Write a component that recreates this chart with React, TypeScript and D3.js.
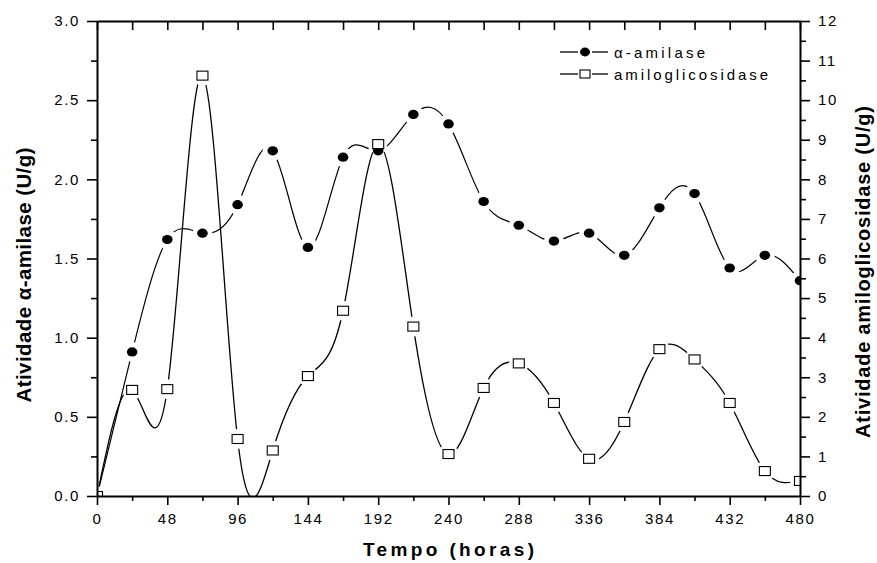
import React, { useEffect, useRef } from 'react'
import * as d3 from 'd3'

// sampling times (h)
const hours = [0, 24, 48, 72, 96, 120, 144, 168, 192, 216, 240, 264, 288, 312, 336, 360, 384, 408, 432, 456, 480]
// alpha-amilase, left axis (U/g)
const amilase = [0, 0.91, 1.62, 1.66, 1.84, 2.18, 1.57, 2.14, 2.18, 2.41, 2.35, 1.86, 1.71, 1.61, 1.66, 1.52, 1.82, 1.91, 1.44, 1.52, 1.36]
// amiloglicosidase, right axis (U/g)
const amiloglicosidase = [0, 2.68, 2.7, 10.62, 1.44, 1.15, 3.03, 4.68, 8.89, 4.28, 1.06, 2.73, 3.35, 2.35, 0.94, 1.87, 3.71, 3.45, 2.35, 0.63, 0.38]

const xTicks = [0, 48, 96, 144, 192, 240, 288, 336, 384, 432, 480]
const xMinorTicks = [24, 72, 120, 168, 216, 264, 312, 360, 408, 456]
const leftTicks = [0, 0.5, 1, 1.5, 2, 2.5, 3]
const leftMinorTicks = [0.25, 0.75, 1.25, 1.75, 2.25, 2.75]
const rightTicks = [0, 1, 2, 3, 4, 5, 6, 7, 8, 9, 10, 11, 12]
const rightMinorTicks = [0.5, 1.5, 2.5, 3.5, 4.5, 5.5, 6.5, 7.5, 8.5, 9.5, 10.5, 11.5]

const W = 877
const H = 563
const margin = { top: 21, right: 77, bottom: 67, left: 97 }
const FONT = '"Liberation Sans", Arial, Helvetica, sans-serif'

export default function App() {
  const svgRef = useRef<SVGSVGElement>(null)

  useEffect(() => {
    const svg = d3.select(svgRef.current)
    svg.selectAll('*').remove()

    const left = margin.left
    const right = W - margin.right
    const top = margin.top
    const bottom = H - margin.bottom

    const x = d3.scaleLinear().domain([0, 480]).range([left, right])
    const yL = d3.scaleLinear().domain([0, 3]).range([bottom, top])
    const yR = d3.scaleLinear().domain([0, 12]).range([bottom, top])

    const defs = svg.append('defs')
    defs.append('clipPath').attr('id', 'plot-clip')
      .append('rect')
      .attr('x', left).attr('y', top)
      .attr('width', right - left).attr('height', bottom - top)

    // gaps in the line around each symbol, like the original
    const makeMask = (id: string, ys: number[], scale: d3.ScaleLinear<number, number>) => {
      const m = defs.append('mask').attr('id', id)
        .attr('maskUnits', 'userSpaceOnUse')
        .attr('x', 0).attr('y', 0).attr('width', W).attr('height', H)
      m.append('rect').attr('width', W).attr('height', H).attr('fill', 'white')
      m.selectAll('circle').data(ys).enter().append('circle')
        .attr('cx', (d, i) => x(hours[i]))
        .attr('cy', d => scale(d))
        .attr('r', 10)
        .attr('fill', 'black')
    }
    makeMask('gap-a', amilase, yL)
    makeMask('gap-b', amiloglicosidase, yR)

    const plot = svg.append('g').attr('clip-path', 'url(#plot-clip)')

    const lineA = d3.line<number>()
      .x((d, i) => x(hours[i]))
      .y(d => yL(d))
      .curve(d3.curveNatural)
    const lineB = d3.line<number>()
      .x((d, i) => x(hours[i]))
      .y(d => yR(d))
      .curve(d3.curveNatural)

    plot.append('g').attr('mask', 'url(#gap-a)')
      .append('path').datum(amilase)
      .attr('d', lineA)
      .attr('fill', 'none').attr('stroke', '#000').attr('stroke-width', 1.2)
    plot.append('g').attr('mask', 'url(#gap-b)')
      .append('path').datum(amiloglicosidase)
      .attr('d', lineB)
      .attr('fill', 'none').attr('stroke', '#000').attr('stroke-width', 1.3)

    plot.selectAll('.dot').data(amilase).enter().append('ellipse')
      .attr('class', 'dot')
      .attr('cx', (d, i) => x(hours[i]))
      .attr('cy', d => yL(d))
      .attr('rx', 5.3).attr('ry', 4.6)
      .attr('fill', '#000')

    plot.selectAll('.sq').data(amiloglicosidase).enter().append('rect')
      .attr('class', 'sq')
      .attr('x', (d, i) => x(hours[i]) - 5.5)
      .attr('y', d => yR(d) - 4.5)
      .attr('width', 11).attr('height', 9)
      .attr('fill', '#fff').attr('stroke', '#000').attr('stroke-width', 1.1)

    // axes
    const styleAxis = (g: d3.Selection<SVGGElement, unknown, null, undefined>) => {
      g.select('.domain').attr('stroke-width', 2)
      g.selectAll('.tick line').attr('stroke-width', 1.6)
      g.selectAll('.tick text')
        .attr('font-family', FONT)
        .attr('font-size', 15)
        .attr('letter-spacing', 1.6)
        .attr('fill', '#000')
    }
    const minor = (g: d3.Selection<SVGGElement, unknown, null, undefined>) => {
      g.select('.domain').remove()
      g.selectAll('.tick line').attr('stroke-width', 1.6)
    }

    svg.append('g').attr('transform', `translate(0,${bottom})`)
      .call(d3.axisBottom(x).tickValues(xMinorTicks).tickSize(5).tickFormat(() => ''))
      .call(minor)
    svg.append('g').attr('transform', `translate(0,${bottom})`)
      .call(d3.axisBottom(x).tickValues(xTicks).tickSize(9).tickSizeOuter(0).tickPadding(8).tickFormat(d3.format('d')))
      .call(styleAxis)

    svg.append('g').attr('transform', `translate(0,${top})`)
      .call(d3.axisTop(x).tickValues(xTicks.concat(xMinorTicks)).tickSize(-9).tickSizeOuter(0).tickFormat(() => ''))
      .call(styleAxis)

    svg.append('g').attr('transform', `translate(${left},0)`)
      .call(d3.axisLeft(yL).tickValues(leftMinorTicks).tickSize(6).tickFormat(() => ''))
      .call(minor)
    svg.append('g').attr('transform', `translate(${left},0)`)
      .call(d3.axisLeft(yL).tickValues(leftTicks).tickSize(10).tickSizeOuter(0).tickPadding(7).tickFormat(d3.format('.1f')))
      .call(styleAxis)

    svg.append('g').attr('transform', `translate(${right},0)`)
      .call(d3.axisRight(yR).tickValues(rightMinorTicks).tickSize(6).tickFormat(() => ''))
      .call(minor)
    svg.append('g').attr('transform', `translate(${right},0)`)
      .call(d3.axisRight(yR).tickValues(rightTicks).tickSize(10).tickSizeOuter(0).tickPadding(8).tickFormat(d3.format('d')))
      .call(styleAxis)

    // titles
    svg.append('text')
      .attr('x', (left + right) / 2).attr('y', 556)
      .attr('text-anchor', 'middle')
      .attr('font-family', FONT).attr('font-weight', 'bold').attr('font-size', 19)
      .attr('textLength', 171).attr('lengthAdjust', 'spacing')
      .text('Tempo (horas)')

    svg.append('text')
      .attr('transform', 'translate(31,275) rotate(-90)')
      .attr('text-anchor', 'middle')
      .attr('font-family', FONT).attr('font-weight', 'bold').attr('font-size', 20.5)
      .attr('textLength', 255).attr('lengthAdjust', 'spacing')
      .text('Atividade α-amilase (U/g)')

    svg.append('text')
      .attr('transform', 'translate(870,272) rotate(-90)')
      .attr('text-anchor', 'middle')
      .attr('font-family', FONT).attr('font-weight', 'bold').attr('font-size', 20)
      .attr('textLength', 332).attr('lengthAdjust', 'spacing')
      .text('Atividade amiloglicosidase (U/g)')

    // legend
    const legend = svg.append('g')
    const rows = [
      { label: 'α-amilase', y: 52, width: 91, symbol: 'dot' },
      { label: 'amiloglicosidase', y: 74, width: 154, symbol: 'sq' }
    ]
    rows.forEach(r => {
      legend.append('line').attr('x1', 560).attr('x2', 578).attr('y1', r.y).attr('y2', r.y)
        .attr('stroke', '#000').attr('stroke-width', 1.3)
      legend.append('line').attr('x1', 592).attr('x2', 608).attr('y1', r.y).attr('y2', r.y)
        .attr('stroke', '#000').attr('stroke-width', 1.3)
      if (r.symbol === 'dot') {
        legend.append('ellipse').attr('cx', 585).attr('cy', r.y).attr('rx', 5).attr('ry', 4.4).attr('fill', '#000')
      } else {
        legend.append('rect').attr('x', 580).attr('y', r.y - 4).attr('width', 10).attr('height', 8)
          .attr('fill', '#fff').attr('stroke', '#000').attr('stroke-width', 1.1)
      }
      legend.append('text')
        .attr('x', 614).attr('y', r.y + 5.5)
        .attr('font-family', FONT).attr('font-size', 15)
        .attr('textLength', r.width).attr('lengthAdjust', 'spacing')
        .text(r.label)
    })
  }, [])

  return (
    <div style={{ position: 'absolute', left: 0, top: 0 }}>
      <svg ref={svgRef} width={W} height={H} style={{ display: 'block', background: '#fff' }} />
    </div>
  )
}
